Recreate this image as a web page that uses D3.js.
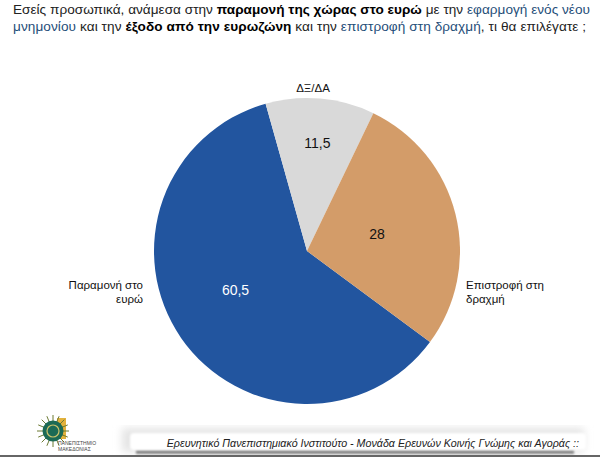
<!DOCTYPE html>
<html>
<head>
<meta charset="utf-8">
<script src="https://cdn.jsdelivr.net/npm/d3@7"></script>
<style>
  html, body { margin: 0; padding: 0; background: #fff; }
  svg { display: block; }
  text { font-family: "Liberation Sans", Arial, sans-serif; }
</style>
</head>
<body>
<div id="chart"></div>
<script>
// Chart data
var categories = ["Παραμονή στο ευρώ", "ΔΞ/ΔΑ", "Επιστροφή στη δραχμή"];
var values = [60.5, 11.5, 28];
var valueLabels = ["60,5", "11,5", "28"];
var colors = ["#22559f", "#d9d9d9", "#d39c69"];

// Title runs: [text, bold, color]
var titleLine1 = [
  ["Εσείς προσωπικά, ανάμεσα στην ", false, "#222"],
  ["παραμονή της χώρας στο ευρώ", true, "#000"],
  [" με την ", false, "#222"],
  ["εφαρμογή ενός νέου", false, "#1f4e79"]
];
var titleLine2 = [
  ["μνημονίου", false, "#1f4e79"],
  [" και την ", false, "#222"],
  ["έξοδο από την ευρωζώνη", true, "#000"],
  [" και την ", false, "#222"],
  ["επιστροφή στη δραχμή", false, "#1f4e79"],
  [", τι θα επιλέγατε ;", false, "#222"]
];
var footerText = "Ερευνητικό Πανεπιστημιακό Ινστιτούτο - Μονάδα Ερευνών Κοινής Γνώμης και Αγοράς ::";
var logoLines = ["ΠΑΝΕΠΙΣΤΗΜΙΟ", "ΜΑΚΕΔΟΝΙΑΣ"];

var width = 600, height = 457;
var svg = d3.select("#chart").append("svg")
  .attr("width", width)
  .attr("height", height);

// Title
function drawLine(runs, y, spacing) {
  var t = svg.append("text").attr("x", 13).attr("y", y)
    .attr("font-size", 13.6).attr("letter-spacing", spacing);
  runs.forEach(function (r) {
    t.append("tspan")
      .attr("font-weight", r[1] ? "bold" : "normal")
      .attr("fill", r[2])
      .text(r[0]);
  });
}
drawLine(titleLine1, 14, 0.02);
drawLine(titleLine2, 31, 0.08);

// Pie
var cx = 307, cy = 251, radius = 153;
var startAngle = 126.5 * Math.PI / 180;
var pie = d3.pie().sort(null)
  .startAngle(startAngle)
  .endAngle(startAngle + 2 * Math.PI);
var arc = d3.arc().innerRadius(0).outerRadius(radius);
var arcs = pie(values);

var g = svg.append("g").attr("transform", "translate(" + cx + "," + cy + ")");
g.selectAll("path")
  .data(arcs)
  .enter()
  .append("path")
  .attr("d", arc)
  .attr("fill", function (d, i) { return colors[i]; });

// Value labels inside the slices, each set at its own distance along the slice middle
var labelRadius = [82, 108, 71];
var labelShift = [[-4, -7], [1, 0], [1, 0]];
g.selectAll("text.value")
  .data(arcs)
  .enter()
  .append("text")
  .attr("class", "value")
  .attr("transform", function (d, i) {
    var p = d3.pointRadial((d.startAngle + d.endAngle) / 2, labelRadius[i]);
    return "translate(" + (p[0] + labelShift[i][0]) + "," + (p[1] + labelShift[i][1]) + ")";
  })
  .attr("text-anchor", "middle")
  .attr("dy", "0.35em")
  .attr("font-size", 14)
  .attr("fill", function (d, i) { return i === 0 ? "#fff" : "#111"; })
  .text(function (d, i) { return valueLabels[i]; });

// Category labels outside the pie
svg.append("text").attr("y", 289).attr("text-anchor", "end")
  .attr("font-size", 11.5).attr("fill", "#111")
  .selectAll("tspan").data(["Παραμονή στο", "ευρώ"]).enter().append("tspan")
  .attr("x", 143).attr("dy", function (d, i) { return i ? 14 : 0; })
  .text(function (d) { return d; });
svg.append("text").attr("x", 313).attr("y", 92).attr("text-anchor", "middle")
  .attr("font-size", 11.5).attr("fill", "#111").text(categories[1]);
svg.append("text").attr("y", 289).attr("font-size", 11.5).attr("fill", "#111")
  .selectAll("tspan").data(["Επιστροφή στη", "δραχμή"]).enter().append("tspan")
  .attr("x", 466).attr("dy", function (d, i) { return i ? 14 : 0; })
  .text(function (d) { return d; });

// Footer band
var defs = svg.append("defs");
defs.append("filter").attr("id", "soft").append("feGaussianBlur").attr("stdDeviation", 1.2);
defs.append("filter").attr("id", "softer").append("feGaussianBlur").attr("stdDeviation", 4);
defs.append("filter").attr("id", "logoBlur").append("feGaussianBlur").attr("stdDeviation", 0.5);
svg.append("rect").attr("x", 122).attr("y", 428).attr("width", 462).attr("height", 24)
  .attr("fill", "#e4e4e4").attr("filter", "url(#softer)");
svg.append("rect").attr("x", 136).attr("y", 450).attr("width", 438).attr("height", 4)
  .attr("fill", "#8a8a8a").attr("filter", "url(#soft)");
svg.append("rect").attr("x", 130).attr("y", 433).attr("width", 456).attr("height", 17).attr("rx", 4)
  .attr("fill", "#fff").attr("filter", "url(#soft)");
svg.append("rect").attr("x", 0).attr("y", 455).attr("width", 600).attr("height", 2).attr("fill", "#666");
svg.append("text").attr("x", 579).attr("y", 447).attr("text-anchor", "end")
  .attr("font-size", 10.7).attr("font-style", "italic").attr("fill", "#222").text(footerText);

// Logo
var logo = svg.append("g").attr("filter", "url(#logoBlur)");
logo.append("rect").attr("x", 57).attr("y", 418).attr("width", 9).attr("height", 21).attr("fill", "#e3b23c");
d3.range(16).forEach(function (i) {
  var a = i * Math.PI / 8;
  logo.append("line")
    .attr("x1", 53).attr("y1", 431)
    .attr("x2", 53 + 16 * Math.cos(a)).attr("y2", 431 + 16 * Math.sin(a))
    .attr("stroke", "#6d7a35").attr("stroke-width", 1);
});
logo.append("circle").attr("cx", 53).attr("cy", 431).attr("r", 10.5).attr("fill", "#1f6a55");
logo.append("circle").attr("cx", 53).attr("cy", 431).attr("r", 6).attr("fill", "none").attr("stroke", "#c9c26a").attr("stroke-width", 1.2);
svg.selectAll("text.logo").data(logoLines).enter().append("text")
  .attr("class", "logo")
  .attr("x", 58).attr("y", function (d, i) { return 445 + i * 6; })
  .attr("font-size", 5).attr("fill", "#444")
  .text(function (d) { return d; });
</script>
</body>
</html>
